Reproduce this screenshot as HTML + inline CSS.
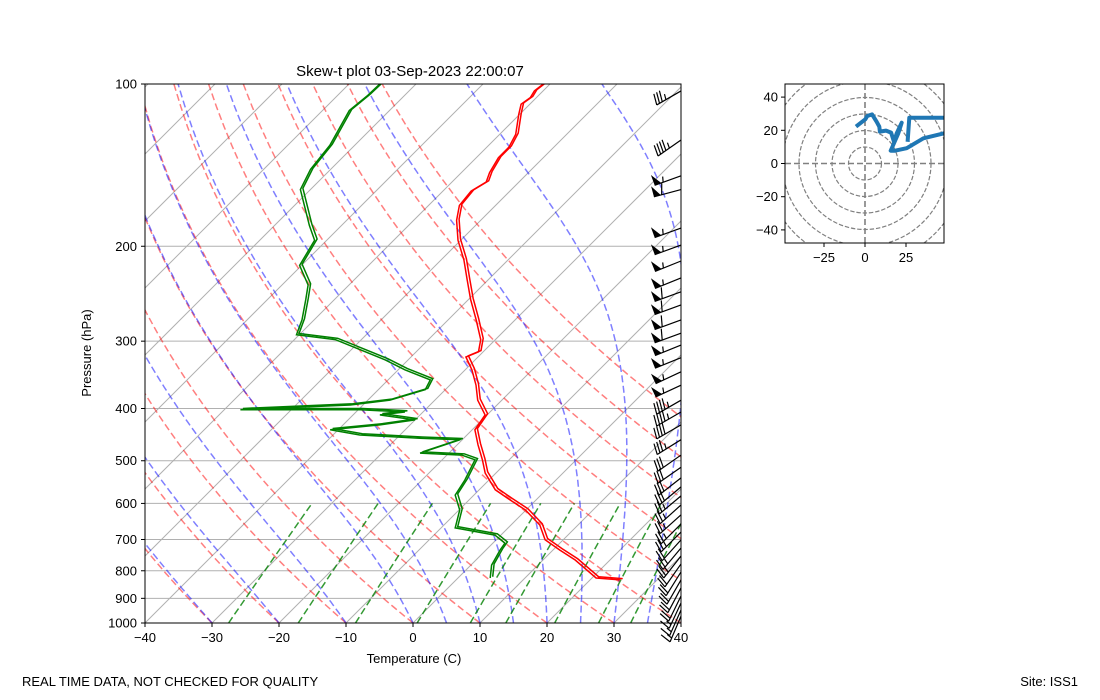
<!DOCTYPE html>
<html><head><meta charset="utf-8"><style>
body{margin:0;background:#fff;}
svg{display:block;font-family:"Liberation Sans",sans-serif;}
</style></head><body>
<svg id="fig" width="1100" height="700" viewBox="0 0 1100 700">
<defs>
<clipPath id="mainclip"><rect x="145" y="84" width="536" height="539"/></clipPath>
<clipPath id="hodoclip"><rect x="785" y="84" width="159" height="159"/></clipPath>
</defs>
<text x="410" y="76" font-size="15" text-anchor="middle">Skew-t plot 03-Sep-2023 22:00:07</text>
<g id="main" clip-path="url(#mainclip)"></g>
<g id="profiles" clip-path="url(#mainclip)"></g>
<rect x="145" y="84" width="536" height="539" fill="none" stroke="#000" stroke-width="1"/>
<g id="axes"></g>
<g id="barbs"></g>
<g id="hodo"></g>
<text x="414" y="663" font-size="13" text-anchor="middle">Temperature (C)</text>
<text x="91" y="353" font-size="13" text-anchor="middle" transform="rotate(-90 91 353)">Pressure (hPa)</text>
<text x="22" y="686" font-size="13">REAL TIME DATA, NOT CHECKED FOR QUALITY</text>
<text x="1078" y="686" font-size="13" text-anchor="end">Site: ISS1</text>
</svg>
<script>
const tempP=[832,825,764,732,701,658,617,591,566,527,498,467,438,411,386,362,339,321,314,298,274,251,231,212,195,179,168,158,152,146,137,131,124,114,109,106,103,100];
const tempT=[24.5,20.6,14.8,11,7.3,4.3,-0.1,-3.9,-7.6,-11.6,-14,-16.9,-19.6,-20.3,-23.6,-26.1,-29,-31.8,-30.7,-32.2,-35.8,-39.7,-43.1,-46.6,-50.4,-53.6,-55.4,-55.8,-54.9,-55.8,-56.7,-56.7,-57.6,-60.1,-61.3,-60.9,-61.3,-61];
const dewP=[825,781,732,711,687,666,617,579,543,498,488,484,457,454,448,438,429,420,411,406,402,402,394,386,369,354,339,325,298,292,274,251,236,217,195,183,157,144,130,112,105,100];
const dewT=[4.8,3.1,2.1,1.8,-0.9,-7.9,-9.9,-12.8,-13.6,-15.1,-17.8,-24.3,-20.3,-26.6,-36,-41.2,-34.5,-30,-36,-32.7,-39.7,-57.6,-41.9,-36.7,-33,-33.7,-39,-43.4,-53.9,-60.4,-61.8,-64.3,-66.1,-70.3,-71.8,-74.8,-81.5,-83,-83.7,-86,-85.5,-85.4];
const barbP=[103,127,148,157,185,199,213,229,243,257,274,290,305,322,342,362,386,406,429,457,488,514,538,559,581,604,630,655,678,701,726,751,777,804,832,861,891,918,946,971];
const barbSpd=[35,45,55,60,55,55,55,55,60,60,60,60,55,55,55,55,45,45,40,35,30,30,30,30,25,25,25,25,25,20,25,25,20,20,20,20,20,15,15,15];
const barbDir=[240,235,250,255,250,250,248,248,250,250,250,250,248,248,245,245,240,240,240,238,235,235,232,230,230,228,228,225,225,222,220,218,215,212,210,208,206,205,204,203];
const hodoU=[-5.5,0.2,1.4,4.3,7.1,8.7,9.1,12.8,15.9,17.7,19.3,22.4,20.3,15.7,18.3,25.4,35.6,48.2,58,58,48.2,27,26];
const hodoV=[22.2,26.6,28.6,29.6,25.2,22.2,19.2,19.8,18.6,13.1,18.2,24.6,18.2,7.7,7.7,9.2,15.2,18.2,20.2,27.8,27.6,27.6,13.1];
const pTicks=[100,200,300,400,500,600,700,800,900,1000];
const tTicks=[-40,-30,-20,-10,0,10,20,30,40];
const dryT0=[-40,-30,-20,-10,0,10,20,30,40,50,60,70,80,90];
const moistT0=[-50,-40,-30,-20,-10,0,5,10,15,20,25,30,35,40,45];
const mixW=[0.0004,0.001,0.002,0.004,0.007,0.01,0.016,0.024,0.032];
const hodoRings=[10,20,30,40,50,60];
const hodoXTicks=[-25,0,25];
const hodoYTicks=[-40,-20,0,20,40];

const NS='http://www.w3.org/2000/svg';
function py(p){return 623-Math.log10(1000/p)*539;}
function tx(T,p){return 145+(T+40)*6.7+(623-py(p));}
function mk(tag,attrs,parent){const e=document.createElementNS(NS,tag);for(const k in attrs)e.setAttribute(k,attrs[k]);parent.appendChild(e);return e;}
const main=document.getElementById('main'),axes=document.getElementById('axes'),prof=document.getElementById('profiles'),barbs=document.getElementById('barbs'),hodo=document.getElementById('hodo');
function pathFrom(Ts,Ps){return Ts.map((t,i)=>(i?'L':'M')+tx(t,Ps[i]).toFixed(1)+' '+py(Ps[i]).toFixed(1)).join(' ');}
const DASH='7 3.5';
for(let T=-140;T<=40;T+=10){
  const l=mk('line',{x1:tx(T,1000),y1:623,x2:tx(T,100),y2:84,stroke:'#b0b0b0','stroke-width':1},main);
  
  
}
pTicks.forEach(p=>{
  const l=mk('line',{x1:145,y1:py(p),x2:681,y2:py(p),stroke:'#b0b0b0','stroke-width':1},main);
  
  
});
const prs=[];for(let p=1000;p>=100;p-=10)prs.push(p);
dryT0.forEach(t0=>{
  const Ts=prs.map(p=>(t0+273.15)*Math.pow(p/1000,0.2857)-273.15);
  const e=mk('path',{d:pathFrom(Ts,prs),fill:'none',stroke:'rgba(255,0,0,0.5)','stroke-width':1.5,'stroke-dasharray':DASH},main);
  
  
});
function dTdp(T,p){const Tc=T-273.15;const es=6.112*Math.exp(17.67*Tc/(Tc+243.5));const rs=0.622*es/(p-es);
  return (287.04*T+2.501e6*rs)/(1005.7+2.501e6*2.501e6*rs*0.622/(287.04*T*T))/p;}
moistT0.forEach(t0=>{
  let T=t0+273.15;const Ts=[],Ps=[];
  for(let p=1000;p>=100;p-=5){Ts.push(T-273.15);Ps.push(p);
    const h=-5;const k1=dTdp(T,p);const k2=dTdp(T+h*k1/2,p+h/2);T+=h*k2;}
  const e=mk('path',{d:pathFrom(Ts,Ps),fill:'none',stroke:'rgba(0,0,255,0.5)','stroke-width':1.5,'stroke-dasharray':DASH},main);
  
  
});
const mp=[];for(let p=1000;p>=600;p-=20)mp.push(p);
mixW.forEach(w=>{
  const Ts=mp.map(p=>{const e=p*w/(0.622+w);const a=Math.log(e/6.112);return 243.5*a/(17.67-a);});
  const e=mk('path',{d:pathFrom(Ts,mp),fill:'none',stroke:'rgba(0,128,0,0.8)','stroke-width':1.5,'stroke-dasharray':DASH},main);
  
  
});
[0,2.5].forEach(off=>{
  const r=mk('path',{d:pathFrom(tempT,tempP),fill:'none',stroke:'#ff0000','stroke-width':1.5,transform:'translate('+off+','+(-off/2)+')'},prof);
  
  
  const g=mk('path',{d:pathFrom(dewT,dewP),fill:'none',stroke:'#008000','stroke-width':1.5,transform:'translate('+off+','+(-off/2)+')'},prof);
  
  
});
pTicks.forEach(p=>{
  const y=py(p);
  mk('line',{x1:141,y1:y,x2:145,y2:y,stroke:'#000'},axes);
  const t=mk('text',{x:137,y:y+4.5,'font-size':13,'text-anchor':'end'},axes);t.textContent=p;
  
  
});
tTicks.forEach(T=>{
  const x=145+(T+40)*6.7;
  mk('line',{x1:x,y1:623,x2:x,y2:627,stroke:'#000'},axes);
  const t=mk('text',{x:x,y:642,'font-size':13,'text-anchor':'middle'},axes);t.textContent=(T<0?'\u2212'+(-T):T);
  
  
});
barbP.forEach((p,i)=>{
  const g=mk('g',{},barbs);
  
  
  const ax=681,ay=py(p),L=28;
  const th=barbDir[i]*Math.PI/180;
  const sx=Math.sin(th),sy=-Math.cos(th);
  const tx0=ax+sx*L,ty0=ay+sy*L;
  mk('line',{x1:ax,y1:ay,x2:tx0,y2:ty0,stroke:'#000','stroke-width':1.2},g);
  const nx=-sy,ny=sx;
  let spd=Math.round(barbSpd[i]/5)*5,pos=0;const fl=11;
  while(spd>=50){const b1x=tx0-sx*pos,b1y=ty0-sy*pos,b2x=tx0-sx*(pos+7),b2y=ty0-sy*(pos+7);
    mk('polygon',{points:`${b1x},${b1y} ${b1x+nx*fl},${b1y+ny*fl} ${b2x},${b2y}`,fill:'#000'},g);spd-=50;pos+=8;}
  while(spd>=10){const bx=tx0-sx*pos,by=ty0-sy*pos;
    mk('line',{x1:bx,y1:by,x2:bx+nx*fl-sx*3,y2:by+ny*fl-sy*3,stroke:'#000','stroke-width':1.2},g);spd-=10;pos+=3.2;}
  if(spd>=5){const bx=tx0-sx*(pos+1),by=ty0-sy*(pos+1);
    mk('line',{x1:bx,y1:by,x2:bx+nx*fl/2-sx*1.5,y2:by+ny*fl/2-sy*1.5,stroke:'#000','stroke-width':1.2},g);}
});
function hx(u){return 865+u*1.64;}function hy(v){return 163.5-v*1.66;}
const hc=mk('g',{'clip-path':'url(#hodoclip)'},hodo);
hodoRings.forEach(r=>{
  const c=mk('circle',{cx:hx(0),cy:hy(0),r:r*1.65,fill:'none',stroke:'#808080','stroke-width':1.2,'stroke-dasharray':'4.4 1.9'},hc);
  
  
});
mk('line',{x1:785,y1:hy(0),x2:944,y2:hy(0),stroke:'#808080','stroke-width':1.6,'stroke-dasharray':'6 3'},hc);
mk('line',{x1:hx(0),y1:84,x2:hx(0),y2:243,stroke:'#808080','stroke-width':1.6,'stroke-dasharray':'6 3'},hc);
const hl=mk('path',{d:hodoU.map((u,i)=>(i?'L':'M')+hx(u).toFixed(1)+' '+hy(hodoV[i]).toFixed(1)).join(' '),fill:'none',stroke:'#1f77b4','stroke-width':4,'stroke-linejoin':'round'},hc);


mk('rect',{x:785,y:84,width:159,height:159,fill:'none',stroke:'#000'},hodo);
hodoXTicks.forEach(u=>{const x=hx(u);mk('line',{x1:x,y1:243,x2:x,y2:247,stroke:'#000'},hodo);
  const t=mk('text',{x:x,y:262,'font-size':13,'text-anchor':'middle'},hodo);t.textContent=(u<0?'\u2212'+(-u):u);
  
  });
hodoYTicks.forEach(v=>{const y=hy(v);mk('line',{x1:781,y1:y,x2:785,y2:y,stroke:'#000'},hodo);
  const t=mk('text',{x:778,y:y+4.5,'font-size':13,'text-anchor':'end'},hodo);t.textContent=(v<0?'\u2212'+(-v):v);
  
  });
</script>
</body></html>
